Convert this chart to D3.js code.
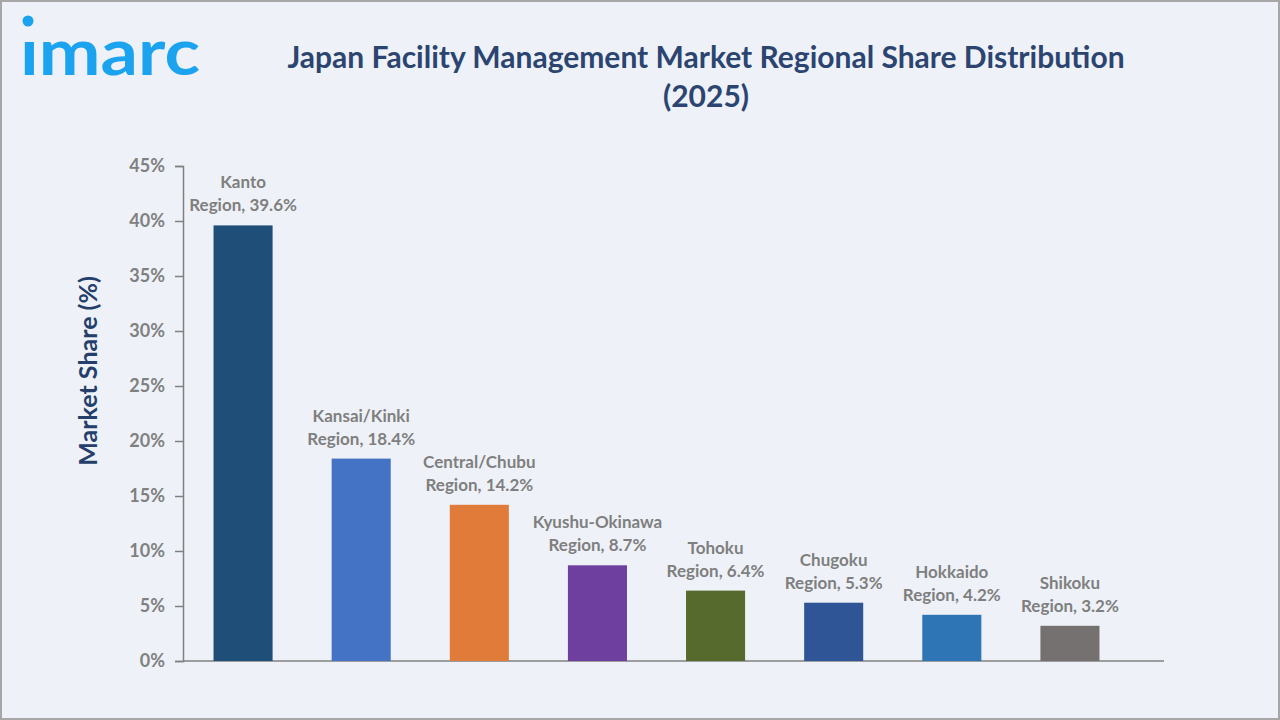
<!DOCTYPE html>
<html>
<head>
<meta charset="utf-8">
<script src="https://cdn.jsdelivr.net/npm/d3@7"></script>
<style>
  html, body { margin: 0; padding: 0; background: #eef2f8; }
  svg { display: block; }
</style>
</head>
<body>
<div id="chart"></div>
<script>
// data
var regions = ["Kanto", "Kansai/Kinki", "Central/Chubu", "Kyushu-Okinawa",
               "Tohoku", "Chugoku", "Hokkaido", "Shikoku"];
var shares = [39.6, 18.4, 14.2, 8.7, 6.4, 5.3, 4.2, 3.2];
var barColors = ["#1f4e79", "#4472c4", "#e07b39", "#6f3fa0",
                 "#556a2c", "#2f5597", "#2e75b6", "#767171"];
var yTicks = [0, 5, 10, 15, 20, 25, 30, 35, 40, 45];

var W = 1280, H = 720;
var font = "Lato, 'Open Sans', sans-serif";

var svg = d3.select("#chart")
  .append("svg")
    .attr("width", W)
    .attr("height", H);

// background + frame
svg.append("rect")
  .attr("x", 1).attr("y", 1)
  .attr("width", W - 2).attr("height", H - 2)
  .attr("fill", "#eef2f8")
  .attr("stroke", "#a6a6a6")
  .attr("stroke-width", 2);

// logo
svg.append("circle")
  .attr("cx", 28).attr("cy", 21).attr("r", 5.5)
  .attr("fill", "#1ba3ef");
svg.append("text")
  .attr("x", 20).attr("y", 75)
  .attr("font-family", font)
  .attr("font-weight", 700)
  .attr("font-size", 64)
  .attr("textLength", 180)
  .attr("lengthAdjust", "spacingAndGlyphs")
  .attr("fill", "#1ba3ef")
  .text("\u0131marc");

// title
var title = svg.append("text")
  .attr("text-anchor", "middle")
  .attr("font-family", font)
  .attr("font-weight", 700)
  .attr("font-size", 30)
  .attr("fill", "#2b4470");
title.append("tspan").attr("x", 706).attr("y", 68)
  .text("Japan Facility Management Market Regional Share Distribution");
title.append("tspan").attr("x", 706).attr("y", 107)
  .text("(2025)");

// scales
var x = d3.scaleBand()
  .domain(regions)
  .range([184, 1129])
  .paddingInner(0.5)
  .paddingOuter(0.25);

var y = d3.scaleLinear()
  .domain([0, 45])
  .range([661, 166]);

// y axis
var yAxis = svg.append("g")
  .attr("transform", "translate(183,0)")
  .call(d3.axisLeft(y).tickValues(yTicks).tickSize(8).tickSizeOuter(8)
        .tickFormat(function(d) { return d + "%"; }));
yAxis.selectAll("path, line").attr("stroke", "#808080").attr("stroke-width", 1.5);
yAxis.selectAll("text")
  .attr("x", -18)
  .attr("font-family", font)
  .attr("font-weight", 700)
  .attr("font-size", 18)
  .attr("fill", "#808080");

// x axis line (runs past the last band)
svg.append("line")
  .attr("x1", 183).attr("x2", 1164)
  .attr("y1", y(0)).attr("y2", y(0))
  .attr("stroke", "#808080")
  .attr("stroke-width", 1.5);

// y label
svg.append("text")
  .attr("transform", "translate(97,371) rotate(-90)")
  .attr("text-anchor", "middle")
  .attr("font-family", font)
  .attr("font-weight", 700)
  .attr("font-size", 25)
  .attr("fill", "#243f6b")
  .text("Market Share (%)");

// bars
svg.append("g")
  .selectAll("rect")
  .data(regions)
  .enter().append("rect")
    .attr("x", function(d) { return x(d); })
    .attr("y", function(d, i) { return y(shares[i]); })
    .attr("width", x.bandwidth())
    .attr("height", function(d, i) { return y(0) - y(shares[i]); })
    .attr("fill", function(d, i) { return barColors[i]; });

// data labels, two lines above each bar
var labels = svg.append("g")
  .selectAll("text")
  .data(regions)
  .enter().append("text")
    .attr("text-anchor", "middle")
    .attr("font-family", font)
    .attr("font-weight", 700)
    .attr("font-size", 17)
    .attr("fill", "#7f7f7f");
labels.append("tspan")
  .attr("x", function(d) { return x(d) + x.bandwidth() / 2; })
  .attr("y", function(d, i) { return y(shares[i]) - 37; })
  .text(function(d) { return d; });
labels.append("tspan")
  .attr("x", function(d) { return x(d) + x.bandwidth() / 2; })
  .attr("y", function(d, i) { return y(shares[i]) - 14; })
  .text(function(d, i) { return "Region, " + shares[i] + "%"; });
</script>
</body>
</html>
